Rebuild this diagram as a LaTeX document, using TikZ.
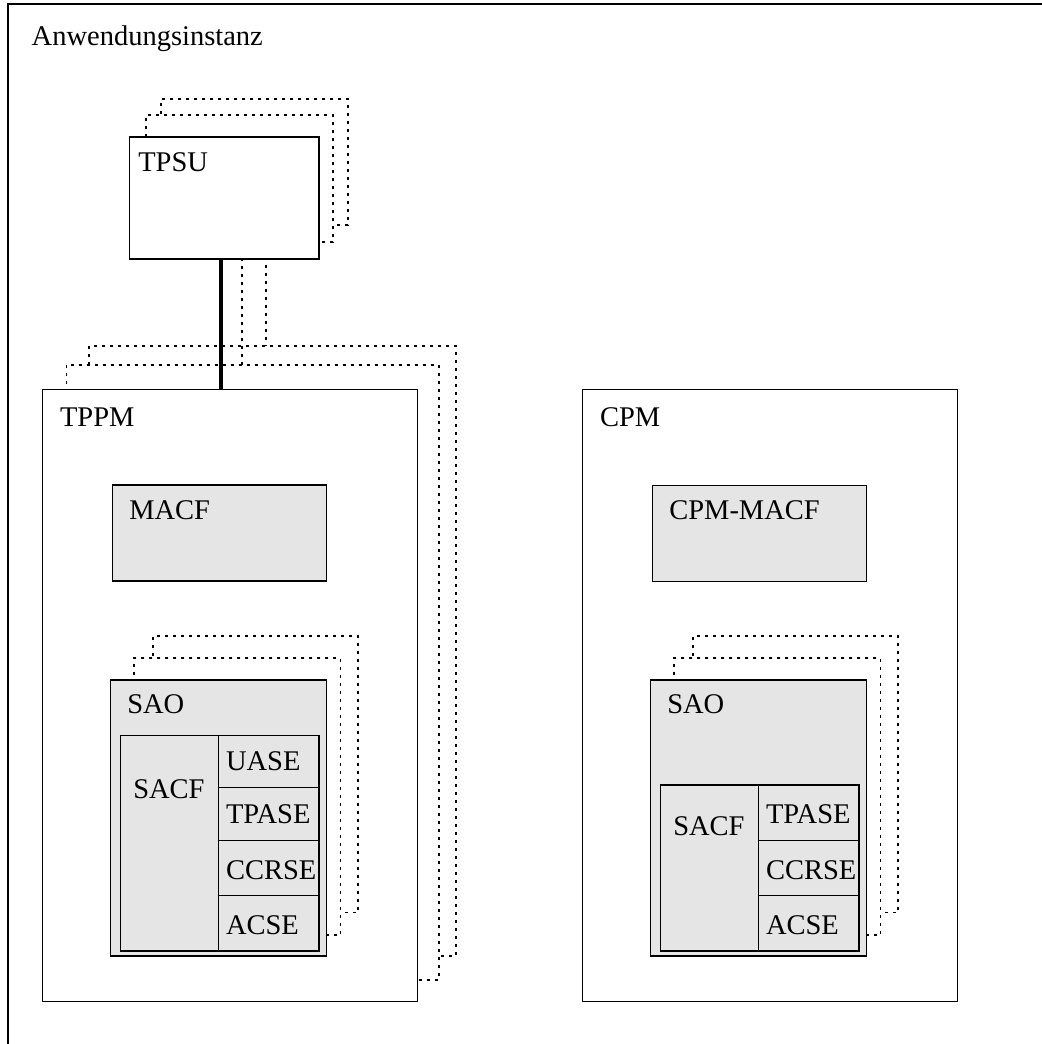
\documentclass[tikz,border=0pt]{standalone}
\usepackage{fontspec}
\setmainfont{Liberation Serif}
\usetikzlibrary{fit}
\begin{document}
\begin{tikzpicture}[x=0.5pt,y=-0.5pt,
  every node/.style={inner sep=0pt, outer sep=0pt},
  solidbox/.style={draw, line width=0.7pt, fill=white},
  greybox/.style={draw, line width=0.7pt, fill=gray!20},
  ghost/.style={draw, line width=0.6pt, fill=white, dash pattern=on 1.5pt off 2.5pt},
  ghostlink/.style={line width=0.6pt, dash pattern=on 1.5pt off 2.5pt},
  mainlink/.style={line width=2pt},
  lbl/.style={anchor=base west, font=\fontsize{14.25}{17}\selectfont}]
\clip (0,0) rectangle (1042,1044);
\useasboundingbox (0,0) rectangle (1042,1044);

% application instance frame
\node[draw, line width=0.7pt, fit={(8,4) (1048,1050)}] (inst) {};
\node[lbl] (instlbl) at (31.7,45.7) {Anwendungsinstanz};

% further TPPM instances (behind)
\node[ghost, fit={(89,346) (456,956)}] (tppmC) {};
\node[ghost, fit={(66.7,365) (439,980)}] (tppmB) {};

% further TPSU instances (behind)
\node[ghost, fit={(161,99) (348,225)}] (tpsuC) {};
\node[ghost, fit={(146,115) (333,242)}] (tpsuB) {};

% links of the further instances
\coordinate (lnkA) at (221,0);
\coordinate (lnkB) at (242,0);
\coordinate (lnkC) at (266,0);
\draw[ghostlink] (tpsuB.south -| lnkB) -- (tppmB.north -| lnkB);
\draw[ghostlink] (tpsuC.south -| lnkC) -- (tppmC.north -| lnkC);

% TPSU
\node[solidbox, fit={(129.3,137) (319,259)}] (tpsu) {};
\node[lbl] (tpsulbl) at (138.3,171) {TPSU};

% TPPM
\node[solidbox, fit={(42.7,389.3) (417.7,1001.7)}] (tppm) {};
\node[lbl] (tppmlbl) at (60,426) {TPPM};
\draw[mainlink] (tpsu.south -| lnkA) -- (tppm.north -| lnkA);

\node[greybox, fit={(112.3,485) (326.7,581)}] (macf) {};
\node[lbl] (macflbl) at (129.3,519.3) {MACF};

% SAO stack in TPPM
\node[ghost, fit={(153,636) (358,912.7)}] (saoC) {};
\node[ghost, fit={(134,658) (340.7,935)}] (saoB) {};
\node[greybox, fit={(110.3,680) (326.7,956)}] (sao) {};
\node[lbl] (saolbl) at (127.3,713.3) {SAO};

\node[greybox, fit={(120.7,735.7) (218.3,951)}] (sacf) {};
\node[greybox, fit={(218.3,735.7) (319,787.7)}] (uase) {};
\node[greybox, fit={(218.3,787.7) (319,840.7)}] (tpase) {};
\node[greybox, fit={(218.3,840.7) (319,895.7)}] (ccrse) {};
\node[greybox, fit={(218.3,895.7) (319,951)}] (acse) {};
\node[lbl] (sacflbl) at (133.3,798.3) {SACF};
\node[lbl] (uaselbl) at (226,770) {UASE};
\node[lbl] (tpaselbl) at (226,823.3) {TPASE};
\node[lbl] (ccrselbl) at (226,879.3) {CCRSE};
\node[lbl] (acselbl) at (226,934.5) {ACSE};

% CPM
\node[solidbox, fit={(582.7,389.3) (957.7,1001.7)}] (cpm) {};
\node[lbl] (cpmlbl) at (600,426) {CPM};

\node[greybox, fit={(652.3,485.3) (866.7,581.3)}] (cmacf) {};
\node[lbl] (cmacflbl) at (669.3,519.3) {CPM-MACF};

% SAO stack in CPM
\node[ghost, fit={(693,636) (898,912.7)}] (csaoC) {};
\node[ghost, fit={(674,658) (880.7,935)}] (csaoB) {};
\node[greybox, fit={(650.3,680) (866.7,956)}] (csao) {};
\node[lbl] (csaolbl) at (667.3,713.3) {SAO};

\node[greybox, fit={(660.7,785) (758.7,951)}] (csacf) {};
\node[greybox, fit={(758.7,785) (859,840.7)}] (ctpase) {};
\node[greybox, fit={(758.7,840.7) (859,895.7)}] (cccrse) {};
\node[greybox, fit={(758.7,895.7) (859,951)}] (cacse) {};
\node[lbl] (csacflbl) at (673.3,835) {SACF};
\node[lbl] (ctpaselbl) at (766,823.3) {TPASE};
\node[lbl] (cccrselbl) at (766,879.3) {CCRSE};
\node[lbl] (cacselbl) at (766,934.5) {ACSE};
\end{tikzpicture}
\end{document}
